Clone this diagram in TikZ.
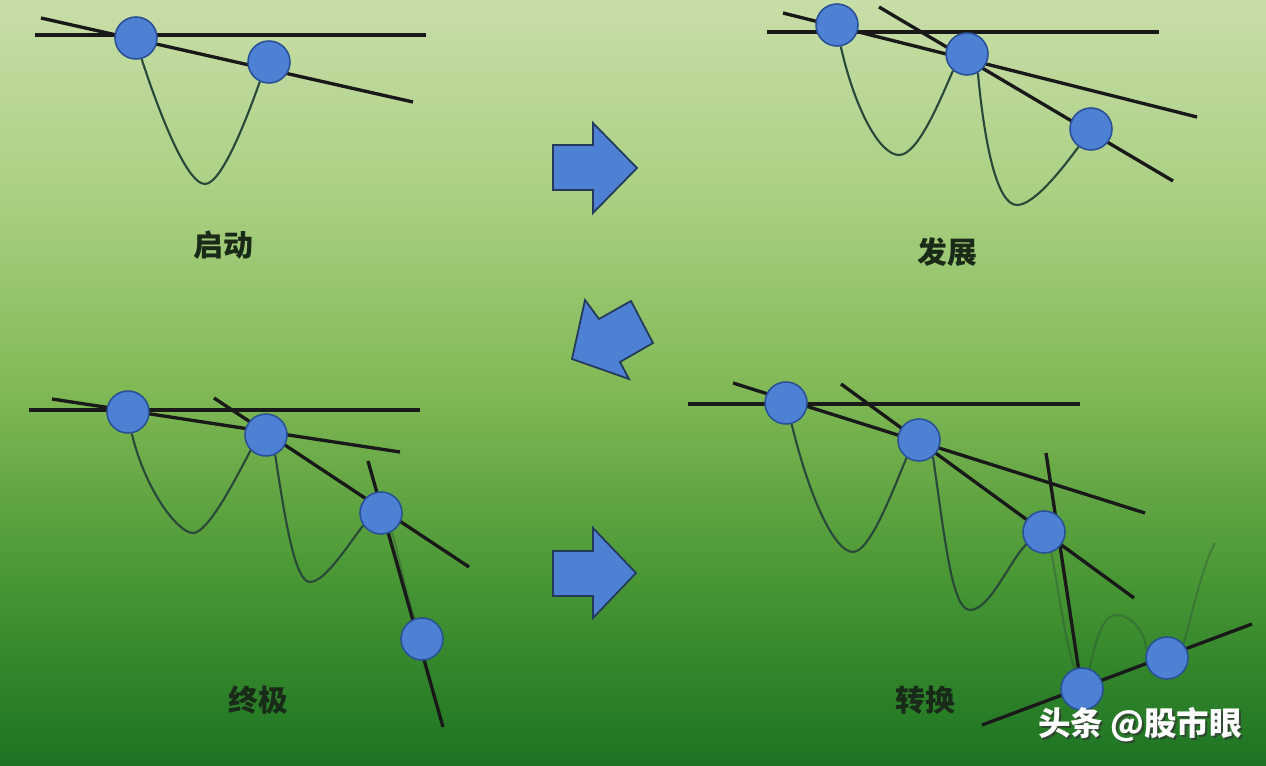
\documentclass[tikz,border=0pt]{standalone}
\usepackage{fontspec}
\newfontfamily\cjk{Noto Sans CJK SC}
\usetikzlibrary{backgrounds}

\definecolor{bgtop}{RGB}{200,222,168}
\definecolor{bghigh}{RGB}{170,207,130}
\definecolor{bgmid}{RGB}{130,186,86}
\definecolor{bglow}{RGB}{72,150,52}
\definecolor{bgbot}{RGB}{28,115,34}
\definecolor{dotblue}{RGB}{78,128,212}
\definecolor{dotedge}{RGB}{42,80,150}
\definecolor{arrowedge}{RGB}{35,58,90}
\definecolor{wavecol}{RGB}{40,72,58}
\definecolor{labelcol}{RGB}{25,42,25}

\pgfdeclareverticalshading{meadow}{100bp}{color(0bp)=(bgbot); color(25bp)=(bgbot); color(37bp)=(bglow); color(50bp)=(bgmid); color(62bp)=(bghigh); color(75bp)=(bgtop); color(100bp)=(bgtop)}

\begin{document}
\begin{tikzpicture}[
    x=0.02cm, y=-0.02cm,
    every node/.style={font=\cjk},
    pivot/.style={
        circle,
        fill=dotblue,
        draw=dotedge,
        line width=0.9pt,
        minimum size=0.84cm,
        inner sep=0pt
    },
    trend/.style={
        line width=1.9pt,
        draw=black!90
    },
    wave/.style={
        line width=1.2pt,
        draw=wavecol
    },
    faint/.style={
        wave,
        draw opacity=0.35
    },
    stage/.style={
        font=\cjk\bfseries\fontsize{17}{20}\selectfont,
        text=labelcol
    },
    bigarrow/.style={
        fill=dotblue,
        draw=arrowedge,
        line width=1pt,
        line join=miter
    },
    wmtext/.style={
        font=\cjk\bfseries\fontsize{18.5}{22}\selectfont,
        text=white
    }
]
\useasboundingbox (0,0) rectangle (1266,766);

% Background
\begin{scope}[on background layer]
    \fill[shading=meadow] (0,0) rectangle (1266,766);
\end{scope}

% Pivot points
\node[pivot] (p1a) at (136,38) {};
\node[pivot] (p1b) at (269,62) {};

\node[pivot] (p2a) at (837,25) {};
\node[pivot] (p2b) at (967,54) {};
\node[pivot] (p2c) at (1091,129) {};

\node[pivot] (p3a) at (128,412) {};
\node[pivot] (p3b) at (266,435) {};
\node[pivot] (p3c) at (381,513) {};
\node[pivot] (p3d) at (422,639) {};

\node[pivot] (p4a) at (786,403) {};
\node[pivot] (p4b) at (919,440) {};
\node[pivot] (p4c) at (1044,532) {};
\node[pivot] (p4d) at (1082,689) {};
\node[pivot] (p4e) at (1167,658) {};

% Line ends and troughs
\coordinate (h1w) at (35,35);    \coordinate (h1e) at (426,35);
\coordinate (s1w) at (41,18);    \coordinate (s1e) at (413,102);
\coordinate (t1) at (205,184);

\coordinate (h2w) at (767,32);   \coordinate (h2e) at (1159,32);
\coordinate (s2w) at (783,13);   \coordinate (s2e) at (1197,117);
\coordinate (r2w) at (879,7);    \coordinate (r2e) at (1173,181);
\coordinate (t2a) at (899,155);  \coordinate (t2b) at (1017,205);

\coordinate (h3w) at (29,410);   \coordinate (h3e) at (420,410);
\coordinate (s3w) at (52,399);   \coordinate (s3e) at (400,452);
\coordinate (r3w) at (214,398);  \coordinate (r3e) at (469,567);
\coordinate (q3n) at (368,461);  \coordinate (q3s) at (443,727);
\coordinate (t3a) at (193,533);  \coordinate (t3b) at (310,582);

\coordinate (h4w) at (688,404);  \coordinate (h4e) at (1080,404);
\coordinate (s4w) at (733,383);  \coordinate (s4e) at (1145,513);
\coordinate (r4w) at (841,384);  \coordinate (r4e) at (1134,598);
\coordinate (q4n) at (1046,453); \coordinate (q4s) at (1079,672);
\coordinate (u4w) at (982,725);  \coordinate (u4e) at (1252,624);
\coordinate (t4a) at (853,552);  \coordinate (t4b) at (970,610);
\coordinate (t4c) at (1117,615); \coordinate (t4d) at (1215,543);

\begin{scope}[on background layer]
    % Price curves
    \draw[wave] (p1a.-75) .. controls (155,100) and (185,184) .. (t1)
        .. controls (222,184) and (248,115) .. (p1b.-115);

    \draw[wave] (p2a.-80) .. controls (855,110) and (880,155) .. (t2a)
        .. controls (918,155) and (940,100) .. (p2b.-130);
    \draw[wave] (p2b.-60) .. controls (985,150) and (998,205) .. (t2b)
        .. controls (1035,205) and (1065,165) .. (p2c.-125);

    \draw[wave] (p3a.-80) .. controls (145,490) and (178,533) .. (t3a)
        .. controls (208,533) and (235,480) .. (p3b.-135);
    \draw[wave] (p3b.-65) .. controls (285,520) and (295,582) .. (t3b)
        .. controls (325,582) and (348,545) .. (p3c.-145);
    \draw[faint] (p3c.-60) .. controls (400,560) and (405,590) .. (p3d.110);

    \draw[wave] (p4a.-75) .. controls (810,500) and (835,552) .. (t4a)
        .. controls (870,552) and (893,490) .. (p4b.-125);
    \draw[wave] (p4b.-50) .. controls (945,540) and (952,610) .. (t4b)
        .. controls (990,610) and (1010,560) .. (p4c.-145);
    \draw[faint] (p4c.-70) .. controls (1060,600) and (1065,640) .. (p4d.110);
    \draw[faint] (p4d.70) .. controls (1098,630) and (1105,615) .. (t4c)
        .. controls (1130,615) and (1145,630) .. (p4e.160);
    \draw[faint] (p4e.40) .. controls (1195,600) and (1205,560) .. (t4d);

    % Trend lines
    \draw[trend] (h1w) -- (h1e);
    \draw[trend] (s1w) -- (s1e);

    \draw[trend] (h2w) -- (h2e);
    \draw[trend] (s2w) -- (s2e);
    \draw[trend] (r2w) -- (r2e);

    \draw[trend] (h3w) -- (h3e);
    \draw[trend] (s3w) -- (s3e);
    \draw[trend] (r3w) -- (r3e);
    \draw[trend] (q3n) -- (q3s);

    \draw[trend] (h4w) -- (h4e);
    \draw[trend] (s4w) -- (s4e);
    \draw[trend] (r4w) -- (r4e);
    \draw[trend] (q4n) -- (q4s);
    \draw[trend] (u4w) -- (u4e);
\end{scope}

% Stage labels
\node[stage] (start) at (223,245) {启动};
\node[stage] (grow) at (947,252) {发展};
\node[stage] (final) at (258,700) {终极};
\node[stage] (turn) at (925,700) {转换};

% Block arrows
\draw[bigarrow] (553,145) -- (593,145) -- (593,123) -- (637,168)
    -- (593,213) -- (593,190) -- (553,190) -- cycle;
\draw[bigarrow] (572,359) -- (585,300) -- (599,319) -- (631,301)
    -- (653,343) -- (620,362) -- (629,379) -- cycle;
\draw[bigarrow] (553,551) -- (593,551) -- (593,528) -- (636,573)
    -- (593,618) -- (593,596) -- (553,596) -- cycle;

% Watermark
\node[wmtext, text=black!80, opacity=0.7] (wmshade) at (1142,727) {头条 @股市眼};
\node[wmtext] (wm) at (1140,725) {头条 @股市眼};

\end{tikzpicture}
\end{document}
